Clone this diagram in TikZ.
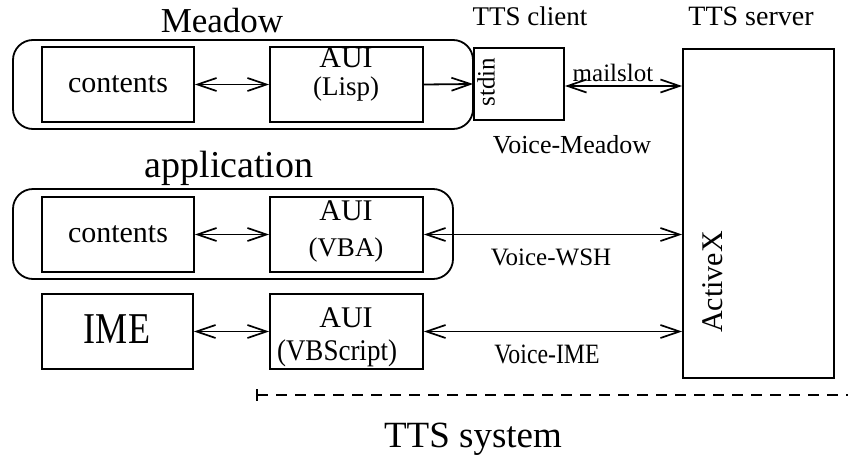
\documentclass[tikz,border=0pt]{standalone}
\usepackage{fontspec}
\setmainfont{Liberation Serif}
\usetikzlibrary{arrows.meta,calc}
\newcommand{\fs}[1]{\fontsize{#1pt}{#1pt}\selectfont}
\begin{document}
\begin{tikzpicture}[x=1pt,y=-1pt,
  box/.style={draw,line width=1.8pt,rectangle,inner sep=0pt},
  grp/.style={draw,line width=1.8pt,rectangle,rounded corners=20pt,inner sep=0pt},
  txt/.style={inner sep=0pt},
  tip/.tip={Straight Barb[length=19pt,width=13pt,line width=1.7pt]},
  conn/.style={line width=1.8pt},
  both/.style={conn,tip-tip},
  one/.style={conn,-tip}]
\useasboundingbox (0,0) rectangle (848,458);
% groups
\node[grp,minimum width=460pt,minimum height=89pt] (meadow) at (243,84.5) {};
\node[grp,minimum width=440pt,minimum height=90pt] (appgrp) at (233,234) {};
% boxes
\node[box,minimum width=152pt,minimum height=75pt] (c1) at (118,84.5) {};
\node[box,minimum width=153pt,minimum height=75pt] (aui1) at (346.5,84.5) {};
\node[box,fill=white,minimum width=90pt,minimum height=72pt] (stdin) at (519,84) {};
\node[box,minimum width=151pt,minimum height=329pt] (server) at (758.5,213.5) {};
\node[box,minimum width=152pt,minimum height=75pt] (c2) at (118,234.5) {};
\node[box,minimum width=153pt,minimum height=75pt] (aui2) at (346.5,234.5) {};
\node[box,minimum width=151pt,minimum height=75pt] (ime) at (117.5,331.5) {};
\node[box,minimum width=153pt,minimum height=75pt] (aui3) at (346.5,331.5) {};
% titles
\node[txt,anchor=base] (tmeadow) at (222,32) {\fs{35}Meadow};
\node[txt,anchor=base] (tapp) at (229,177) {\fs{38}application};
\node[txt,anchor=base] (tclient) at (530,25) {\fs{27}TTS client};
\node[txt,anchor=base] (tserver) at (751,25) {\fs{28}TTS server};
\node[txt,anchor=base] (tsys) at (473,447) {\fs{37}TTS system};
% box texts
\node[txt] (l1) at (c1) {\fs{30}contents};
\node[txt] (l2) at (c2) {\fs{30}contents};
\node[txt] (l3) at (117,329) {\fs{44}\scalebox{0.82}[1]{IME}};
\node[txt,anchor=base] (a1) at (346,67) {\fs{30}AUI};
\node[txt,anchor=base] (a1s) at (346,95) {\fs{27}(Lisp)};
\node[txt,anchor=base] (a2) at (346,220) {\fs{30}AUI};
\node[txt,anchor=base] (a2s) at (346,256) {\fs{27}(VBA)};
\node[txt,anchor=base] (a3) at (346,327) {\fs{30}AUI};
\node[txt,anchor=base] (a3s) at (337,360) {\fs{30}\scalebox{0.9}[1]{(VBScript)}};
\node[txt,rotate=90] (lstdin) at (486,82) {\fs{25}stdin};
\node[txt,rotate=90] (lax) at (713,282) {\fs{30}ActiveX};
% connector labels
\node[txt,anchor=base] (lmail) at (613,81) {\fs{25}mailslot};
\node[txt,anchor=base] (lvm) at (572,153) {\fs{26}Voice-Meadow};
\node[txt,anchor=base] (lwsh) at (551,265) {\fs{25}Voice-WSH};
\node[txt,anchor=base] (lime) at (547,363) {\fs{28}\scalebox{0.85}[1]{Voice-IME}};
% connectors
\coordinate (ms) at ($(stdin.east)+(0,2)$);
\draw[both] (c1.east) -- (aui1.west);
\draw[one] (aui1.east) -- (stdin.west);
\draw[both] (ms) -- (ms -| server.west);
\draw[both] (c2.east) -- (aui2.west);
\draw[both] (aui2.east) -- (aui2.east -| server.west);
\draw[both] (ime.east) -- (aui3.west);
\draw[both] (aui3.east) -- (aui3.east -| server.west);
% dashed boundary
\coordinate (dl) at (257,395);
\coordinate (dr) at (848,395);
\coordinate (dt) at (257,389);
\coordinate (db) at (257,401);
\draw[line width=1.4pt,dash pattern=on 11pt off 8pt] (dl) -- (dr);
\draw[line width=1.4pt] (dt) -- (db);
\end{tikzpicture}
\end{document}
